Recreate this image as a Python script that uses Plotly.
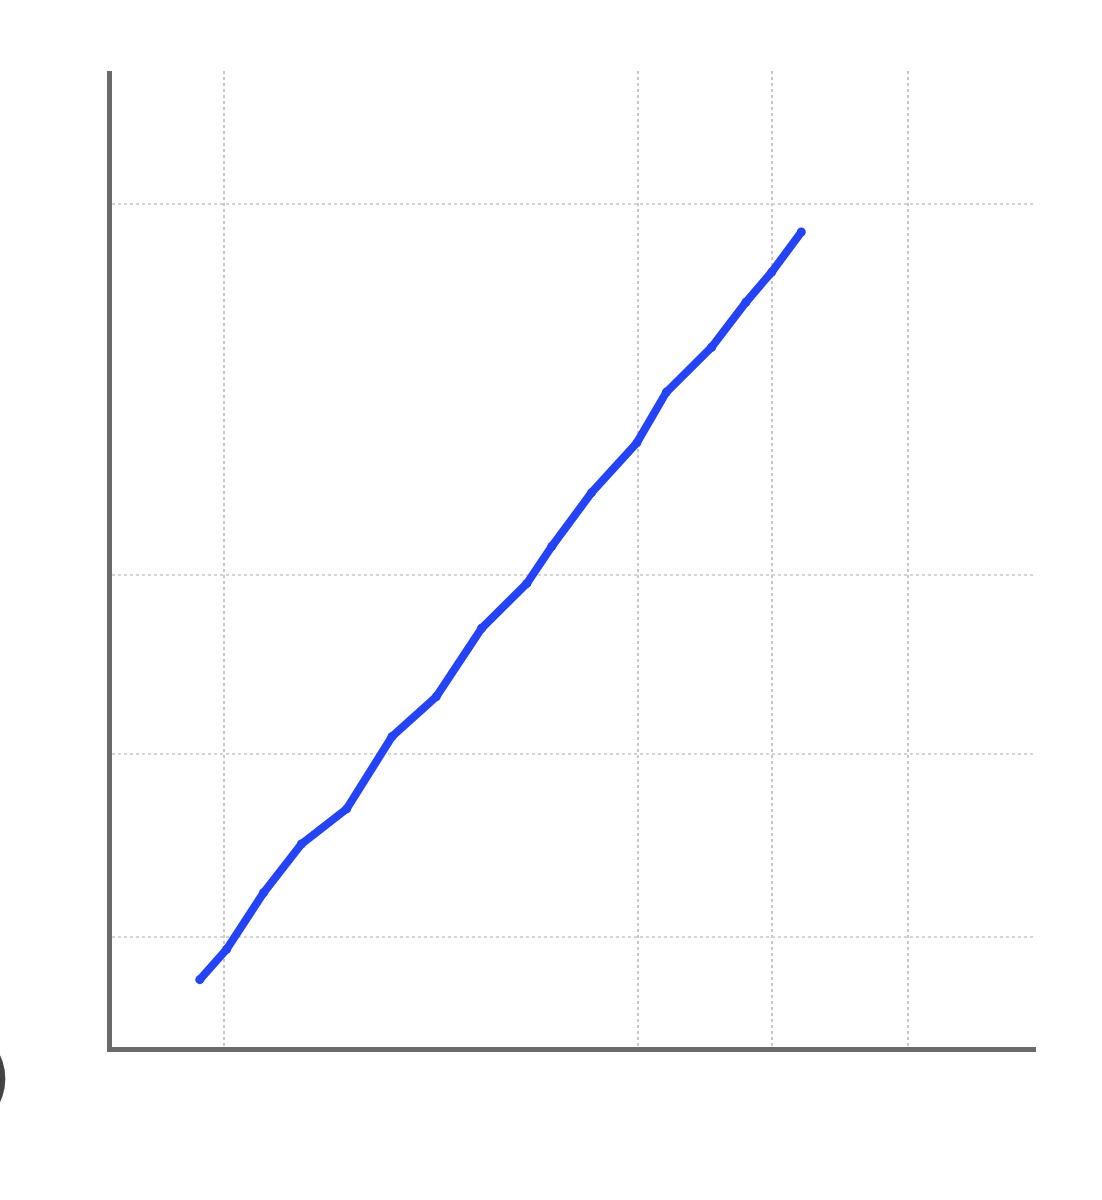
import plotly.graph_objects as go

# data
x_vals = [9.5, 12.4, 16.4, 20.5, 25.4, 30.3, 35.1, 40.0, 44.9, 47.6, 51.9, 56.8, 60.0, 64.9, 68.6, 71.4, 74.6]
y_vals = [6.9, 10.0, 15.8, 20.8, 24.4, 31.8, 35.9, 42.9, 47.5, 51.3, 56.8, 61.9, 67.1, 71.7, 76.3, 79.4, 83.5]
x_ticks = [12.1, 56.9, 71.4, 86.1]
y_ticks = [11.3, 30.0, 48.4, 86.4]

fig = go.Figure()
fig.add_trace(go.Scatter(
    x=x_vals, y=y_vals, mode="lines+markers",
    line=dict(color="#2343ff", width=8),
    marker=dict(color="#2343ff", size=9),
    showlegend=False, hoverinfo="skip",
))

fig.update_xaxes(
    range=[0, 100], tickvals=x_ticks, showticklabels=False, ticks="",
    showgrid=True, gridcolor="#c8c8c8", gridwidth=2, griddash="dot",
    zeroline=False, showline=True, linecolor="#6a6a6a", linewidth=5,
)
fig.update_yaxes(
    range=[0, 100], tickvals=y_ticks, showticklabels=False, ticks="",
    showgrid=True, gridcolor="#d4d4d4", gridwidth=2, griddash="dot",
    zeroline=False, showline=True, linecolor="#6a6a6a", linewidth=5,
)

fig.add_annotation(
    text=")", xref="paper", yref="paper", x=-0.106, y=-0.03,
    xanchor="right", yanchor="middle", showarrow=False,
    font=dict(size=80, color="#444444", family="DejaVu Sans"),
)

fig.update_layout(
    width=1102, height=1200,
    margin=dict(l=112, r=66, t=71, b=153),
    paper_bgcolor="white", plot_bgcolor="white",
)

fig.write_html("out.html", config={"displayModeBar": False},
               post_script="document.body.style.margin='0';")
